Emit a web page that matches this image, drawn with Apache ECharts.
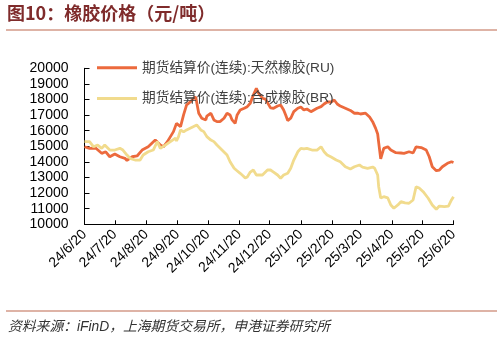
<!DOCTYPE html>
<html>
<head>
<meta charset="utf-8">
<script src="https://cdn.jsdelivr.net/npm/echarts@6/dist/echarts.min.js"></script>
<style>html,body{margin:0;padding:0;background:#fff;}#c{width:503px;height:340px;}</style>
</head>
<body>
<div id="c"></div>
<script>
const titleText = '图10：橡胶价格（元/吨）';
const sourceText = '资料来源：iFinD，上海期货交易所，申港证券研究所';
const seriesNames = ['期货结算价(连续):天然橡胶(RU)', '期货结算价(连续):合成橡胶(BR)'];
const xTickLabels = ['24/6/20','24/7/20','24/8/20','24/9/20','24/10/20','24/11/20','24/12/20','25/1/20','25/2/20','25/3/20','25/4/20','25/5/20','25/6/20'];

const ruDates = ['2024-06-20','2024-06-25','2024-07-01','2024-07-07','2024-07-11','2024-07-15','2024-07-20','2024-07-25','2024-07-30','2024-08-01','2024-08-06','2024-08-11','2024-08-16','2024-08-22','2024-08-29','2024-09-03','2024-09-06','2024-09-10','2024-09-13','2024-09-16','2024-09-19','2024-09-23','2024-09-26','2024-09-29','2024-10-03','2024-10-06','2024-10-08','2024-10-11','2024-10-14','2024-10-18','2024-10-19','2024-10-23','2024-10-26','2024-10-29','2024-11-01','2024-11-05','2024-11-08','2024-11-11','2024-11-13','2024-11-16','2024-11-18','2024-11-21','2024-11-25','2024-11-28','2024-12-01','2024-12-04','2024-12-07','2024-12-09','2024-12-13','2024-12-16','2024-12-21','2024-12-24','2024-12-28','2024-12-31','2025-01-03','2025-01-05','2025-01-07','2025-01-10','2025-01-13','2025-01-17','2025-01-20','2025-01-23','2025-01-26','2025-01-30','2025-02-02','2025-02-05','2025-02-09','2025-02-12','2025-02-15','2025-02-19','2025-02-22','2025-02-25','2025-02-28','2025-03-05','2025-03-10','2025-03-14','2025-03-17','2025-03-20','2025-03-25','2025-03-29','2025-04-01','2025-04-04','2025-04-06','2025-04-07','2025-04-09','2025-04-12','2025-04-16','2025-04-19','2025-04-24','2025-04-29','2025-05-02','2025-05-07','2025-05-11','2025-05-14','2025-05-19','2025-05-24','2025-05-27','2025-05-30','2025-06-03','2025-06-06','2025-06-09','2025-06-14','2025-06-18','2025-06-20'];
const ruValues = [14970,14870,14890,14550,14650,14330,14510,14330,14230,14090,14330,14380,14760,14970,15400,15080,14970,15300,15620,15940,16470,16260,17010,17650,17860,18080,18160,17120,16800,16690,16940,17120,16690,16580,16580,16800,17120,17010,16690,16470,17010,17330,17440,17540,17760,18290,18720,18420,18080,18030,17460,17440,17580,17650,17330,17010,16650,16800,17220,17440,17520,17330,17390,17220,17330,17440,17540,17710,17840,17840,17970,17710,17580,17440,17300,17120,17130,17070,17120,16880,16580,16150,15790,15240,14190,14870,14970,14760,14590,14570,14550,14650,14570,14970,14920,14760,14330,13690,13440,13480,13690,13910,14010,13960];

const brDates = ['2024-06-20','2024-06-25','2024-06-29','2024-07-03','2024-07-07','2024-07-10','2024-07-15','2024-07-20','2024-07-25','2024-07-28','2024-08-01','2024-08-04','2024-08-09','2024-08-14','2024-08-17','2024-08-22','2024-08-27','2024-08-31','2024-09-03','2024-09-08','2024-09-13','2024-09-18','2024-09-19','2024-09-21','2024-09-23','2024-09-26','2024-09-29','2024-10-04','2024-10-09','2024-10-13','2024-10-16','2024-10-19','2024-10-23','2024-10-26','2024-10-29','2024-11-03','2024-11-08','2024-11-11','2024-11-15','2024-11-17','2024-11-21','2024-11-24','2024-11-26','2024-11-28','2024-12-01','2024-12-04','2024-12-07','2024-12-13','2024-12-18','2024-12-21','2024-12-24','2024-12-28','2024-12-31','2025-01-03','2025-01-07','2025-01-10','2025-01-13','2025-01-17','2025-01-20','2025-01-23','2025-01-26','2025-01-31','2025-02-05','2025-02-09','2025-02-12','2025-02-15','2025-02-19','2025-02-24','2025-02-28','2025-03-05','2025-03-10','2025-03-14','2025-03-19','2025-03-22','2025-03-27','2025-04-01','2025-04-03','2025-04-06','2025-04-07','2025-04-09','2025-04-12','2025-04-16','2025-04-19','2025-04-22','2025-04-26','2025-04-29','2025-05-03','2025-05-07','2025-05-11','2025-05-14','2025-05-17','2025-05-21','2025-05-26','2025-05-30','2025-06-03','2025-06-06','2025-06-11','2025-06-15','2025-06-18','2025-06-20'];
const brValues = [15300,15300,14970,15080,14870,15080,14760,14760,14870,14760,14440,14230,14120,14120,14440,14650,14760,15300,14870,15080,15300,15530,15340,15620,16050,15920,16050,16210,16370,16050,15940,15620,15400,15300,15080,14760,14440,14010,13590,13480,13270,13100,12970,13030,13350,13480,13160,13160,13480,13480,13350,13160,12950,13160,13270,13590,14120,14650,14870,14830,14870,14760,14760,14970,14650,14440,14310,14120,14010,13690,13550,13690,13800,13670,13590,13670,13590,13160,12410,11690,11770,11690,11240,11030,11240,11450,11370,11350,11560,12410,12330,12090,11670,11240,10960,11170,11130,11170,11560,11770];

// Dates -> day count from first tick (UTC, so no DST drift)
const DAY = 86400000;
const t0 = Date.UTC(2024, 5, 20);
function tickToDay(s) {
  const p = s.split('/').map(Number);
  return Math.round((Date.UTC(2000 + p[0], p[1] - 1, p[2]) - t0) / DAY);
}
function dateToDay(s) {
  const p = s.split('-').map(Number);
  return Math.round((Date.UTC(p[0], p[1] - 1, p[2]) - t0) / DAY);
}
function dayToLabel(v) {
  const d = new Date(t0 + Math.round(v) * DAY);
  return (d.getUTCFullYear() % 100) + '/' + (d.getUTCMonth() + 1) + '/' + d.getUTCDate();
}
const tickDays = xTickLabels.map(tickToDay);
const ruData = ruDates.map((d, i) => [dateToDay(d), ruValues[i]]);
const brData = brDates.map((d, i) => [dateToDay(d), brValues[i]]);

const chart = echarts.init(document.getElementById('c'), null, {renderer: 'canvas'});
chart.setOption({
  animation: false,
  backgroundColor: '#fff',
  graphic: [
    {type: 'text', left: 7, top: 4, style: {text: titleText, fontSize: 18, fontWeight: 'bold', fill: '#7F2B2B', fontFamily: 'Noto Sans CJK SC'}},
    {type: 'line', shape: {x1: 6, y1: 30, x2: 497, y2: 30}, style: {stroke: '#D39A88', lineWidth: 1.5}},
    {type: 'line', shape: {x1: 6, y1: 311, x2: 497, y2: 311}, style: {stroke: '#D39A88', lineWidth: 1.5}},
    {type: 'text', left: 8, top: 320, style: {text: sourceText, fontSize: 13.8, fontStyle: 'italic', fill: '#333', fontFamily: 'Liberation Sans, Noto Sans CJK SC'}}
  ],
  legend: {
    orient: 'vertical',
    left: 92,
    top: 56,
    itemWidth: 40,
    itemHeight: 3,
    itemGap: 17,
    icon: 'rect',
    textStyle: {fontSize: 13.7, color: '#404040', fontFamily: 'Liberation Sans, Noto Sans CJK SC'},
    data: seriesNames
  },
  grid: {left: 84.5, right: 49.5, top: 68.3, bottom: 115.7, containLabel: false},
  xAxis: {
    type: 'value',
    min: tickDays[0],
    max: tickDays[tickDays.length - 1],
    axisLine: {lineStyle: {color: '#000', width: 1}},
    axisTick: {show: true, inside: true, length: 4, customValues: tickDays, lineStyle: {color: '#000'}},
    axisLabel: {
      customValues: tickDays,
      rotate: 45,
      margin: 8,
      fontSize: 14,
      color: '#000',
      fontFamily: 'Liberation Sans',
      formatter: dayToLabel
    },
    splitLine: {show: false}
  },
  yAxis: {
    type: 'value',
    min: 10000,
    max: 20000,
    interval: 1000,
    axisLine: {show: true, lineStyle: {color: '#000', width: 1}},
    axisTick: {show: true, inside: true, length: 5, lineStyle: {color: '#000'}},
    axisLabel: {margin: 16, fontSize: 14, color: '#000', fontFamily: 'Liberation Sans', formatter: function (v) { return String(v); }},
    splitLine: {show: false}
  },
  series: [
    {name: seriesNames[0], type: 'line', data: ruData, showSymbol: false, color: '#EC6A3D', lineStyle: {width: 2.8, color: '#EC6A3D'}},
    {name: seriesNames[1], type: 'line', data: brData, showSymbol: false, color: '#F1DB8D', lineStyle: {width: 2.8, color: '#F1DB8D'}}
  ]
});
</script>
</body>
</html>
